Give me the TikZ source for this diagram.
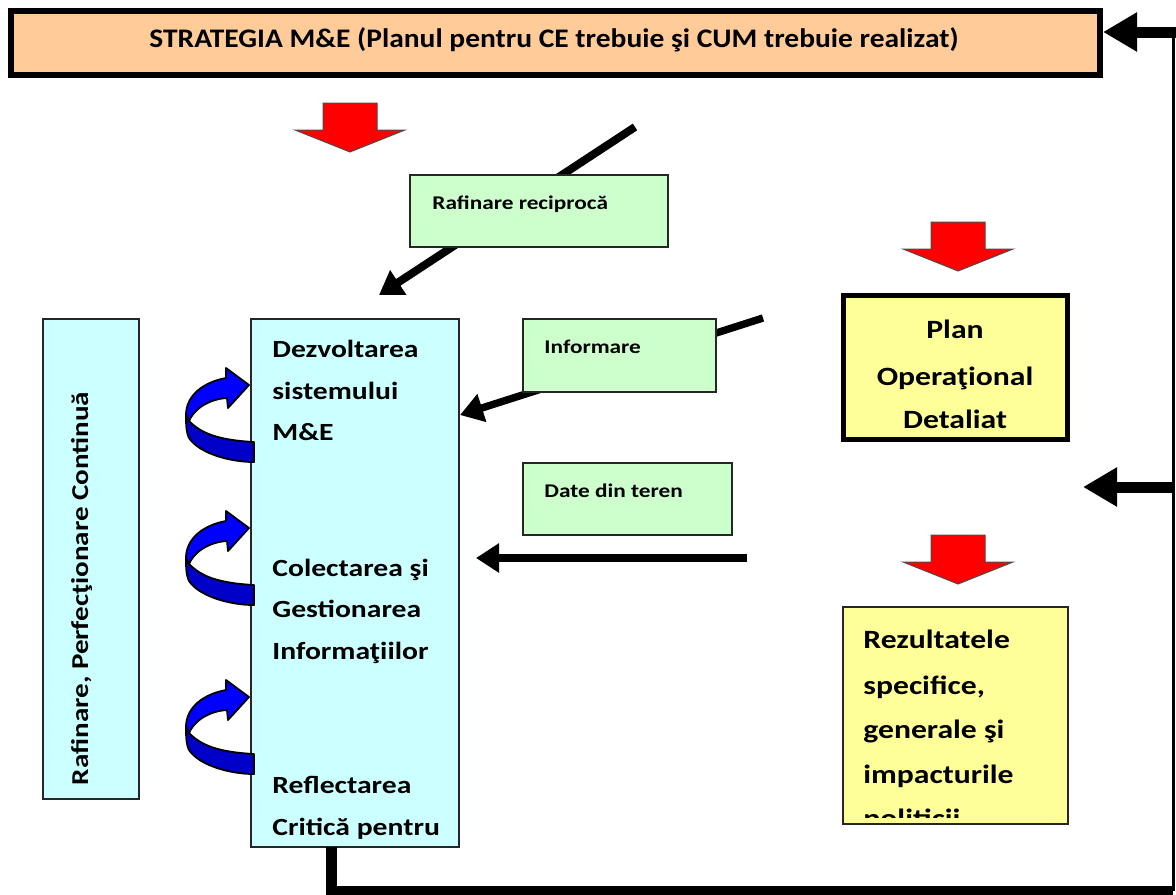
\documentclass[tikz,border=0pt]{standalone}
\usepackage{fontspec}
\setmainfont[FakeStretch=1.2]{Carlito}
\newfontfamily\titlefont[FakeStretch=1.1]{Carlito}
\usetikzlibrary{arrows.meta}
\definecolor{peach}{HTML}{FFCC99}
\definecolor{paleyellow}{HTML}{FFFF99}
\definecolor{palecyan}{HTML}{CCFFFF}
\definecolor{palegreen}{HTML}{CCFFCC}
\definecolor{curlblue}{HTML}{0000FF}
\definecolor{curldark}{HTML}{0000C8}
\begin{document}
\begin{tikzpicture}[x=0.5pt,y=-0.5pt,
  box/.style={draw=black!85, line width=0.8pt, inner sep=0pt},
  titlebox/.style={box, draw=black, line width=3pt, fill=peach, minimum width=544.5pt, minimum height=32pt},
  planbox/.style={box, draw=black, line width=2.5pt, fill=paleyellow, minimum width=112pt, minimum height=72pt},
  rezbox/.style={box, fill=paleyellow, minimum width=112.5pt, minimum height=108.5pt},
  cyanbox/.style={box, fill=palecyan},
  greenbox/.style={box, fill=palegreen},
  maintxt/.style={anchor=base west, inner sep=0pt, font=\fontsize{12.35pt}{14pt}\selectfont\bfseries},
  bigtxt/.style={anchor=base west, inner sep=0pt, font=\fontsize{13.2pt}{15pt}\selectfont\bfseries},
  greentxt/.style={anchor=base west, inner sep=0pt, font=\fontsize{9.7pt}{11pt}\selectfont\bfseries},
  flowarrow/.style={line width=3.7pt, -{Triangle[length=11.5pt,width=14pt]}},
  sidearrow/.style={line width=5.5pt, -{Triangle[length=17pt,width=18.5pt]}},
  redarrow/.pic={\draw[fill=red, draw=black!70, line width=0.5pt]
     (-27,0) -- (27,0) -- (27,27) -- (55,27) -- (0,49) -- (-55,27) -- (-27,27) -- cycle;},
  curl/.pic={
    \draw[fill=curldark, line width=0.9pt, line join=round]
      (-60,36) .. controls (-48,48) and (-32,55) .. (5,57) -- (5,77)
      .. controls (-20,77) and (-50,68) .. (-60,53)
      .. controls (-63,47) and (-63,38) .. (-63,30) -- cycle;
    \draw[fill=curlblue, line width=0.9pt, line join=round]
      (0,0) -- (-23,-17) -- (-23,-7) .. controls (-45,-3) and (-63,10) .. (-63,30)
      -- (-60,36) .. controls (-55,24) and (-40,14) .. (-22,13) -- (-21,23) -- cycle;}
]
\useasboundingbox (0,0) rectangle (1176,894);

% title
\node[titlebox] (title) at (555.5,43) {};
\node[anchor=base, inner sep=0pt, font=\titlefont\fontsize{13.4pt}{15pt}\selectfont\bfseries] (titletext) at (554,47)
  {STRATEGIA M\&E (Planul pentru CE trebuie şi CUM trebuie realizat)};

% red block arrows
\pic at (350,103) {redarrow};
\pic at (958,222) {redarrow};
\pic at (958,535) {redarrow};

% black flow arrows (behind green labels)
\coordinate (a1s) at (635,127);
\coordinate (a1e) at (379,295);
\coordinate (a2s) at (763,318);
\coordinate (a2e) at (460,415);
\coordinate (a3s) at (747,558);
\coordinate (a3e) at (476,558);
\draw[flowarrow, line width=4pt] (a1s) -- (a1e);
\draw[flowarrow] (a2s) -- (a2e);
\draw[flowarrow] (a3s) -- (a3e);

% green labels
\node[greenbox, minimum width=129pt, minimum height=36pt] (reciproca) at (539,211) {};
\node[greentxt] (reciprocatxt) at (432,209) {Rafinare reciprocă};
\node[greenbox, minimum width=96.5pt, minimum height=36.5pt] (informare) at (619.5,355.5) {};
\node[greentxt] (informaretxt) at (544,353) {Informare};
\node[greenbox, minimum width=104.5pt, minimum height=36pt] (date) at (627.5,499) {};
\node[greentxt] (datetxt) at (544,497) {Date din teren};

% left box
\node[cyanbox, minimum width=48pt, minimum height=240pt] (left) at (91,559) {};
\node[rotate=90, anchor=base, inner sep=0pt, font=\fontsize{12.1pt}{14pt}\selectfont\bfseries] (lefttxt) at (88,588.5)
  {Rafinare, Perfecţionare Continuă};

% main box
\node[cyanbox, minimum width=104pt, minimum height=264pt] (main) at (355,583) {};
\begin{scope}
  \clip (251,319) rectangle (459,838);
  \node[maintxt] (m1) at (272,357) {Dezvoltarea};
  \node[maintxt] (m2) at (272,399) {sistemului};
  \node[maintxt] (m3) at (272,440) {M\&E};
  \node[maintxt] (m4) at (272,576) {Colectarea şi};
  \node[maintxt] (m5) at (272,617) {Gestionarea};
  \node[maintxt] (m6) at (272,659) {Informaţiilor};
  \node[maintxt] (m7) at (272,793) {Reflectarea};
  \node[maintxt] (m8) at (272,835) {Critică pentru};
\end{scope}

% curls
\pic at (249,385) {curl};
\pic at (249,528) {curl};
\pic at (249,697) {curl};

% plan box
\node[planbox] (plan) at (955.5,367.5) {};
\node[bigtxt, anchor=base] (p1) at (955,338) {Plan};
\node[bigtxt, anchor=base] (p2) at (955,385) {Operaţional};
\node[bigtxt, anchor=base] (p3) at (955,428) {Detaliat};

% results box
\node[rezbox] (rez) at (955.5,715.5) {};
\begin{scope}
  \clip (843,607) rectangle (1068,817);
  \node[bigtxt] (r1) at (863,648) {Rezultatele};
  \node[bigtxt] (r2) at (863,694) {specifice,};
  \node[bigtxt] (r3) at (863,738) {generale şi};
  \node[bigtxt] (r4) at (863,783) {impacturile};
  \node[bigtxt] (r5) at (863,827) {politicii};
\end{scope}

% feedback loop
\coordinate (fbtop) at (331,847);
\coordinate (fbcorner) at (331,891);
\coordinate (brcorner) at (1173,891);
\coordinate (trcorner) at (1173,32);
\coordinate (redge) at (1176,32);
\coordinate (mid) at (1173,487);
\coordinate (midend) at (1083,487);
\draw[line width=5.5pt] (fbtop) -- (fbcorner) -- (brcorner);
\draw[line width=1.5pt] (brcorner) -- (trcorner);
\draw[sidearrow] (redge) -- (redge -| title.east);
\draw[sidearrow] (mid) -- (midend);
\end{tikzpicture}
\end{document}
